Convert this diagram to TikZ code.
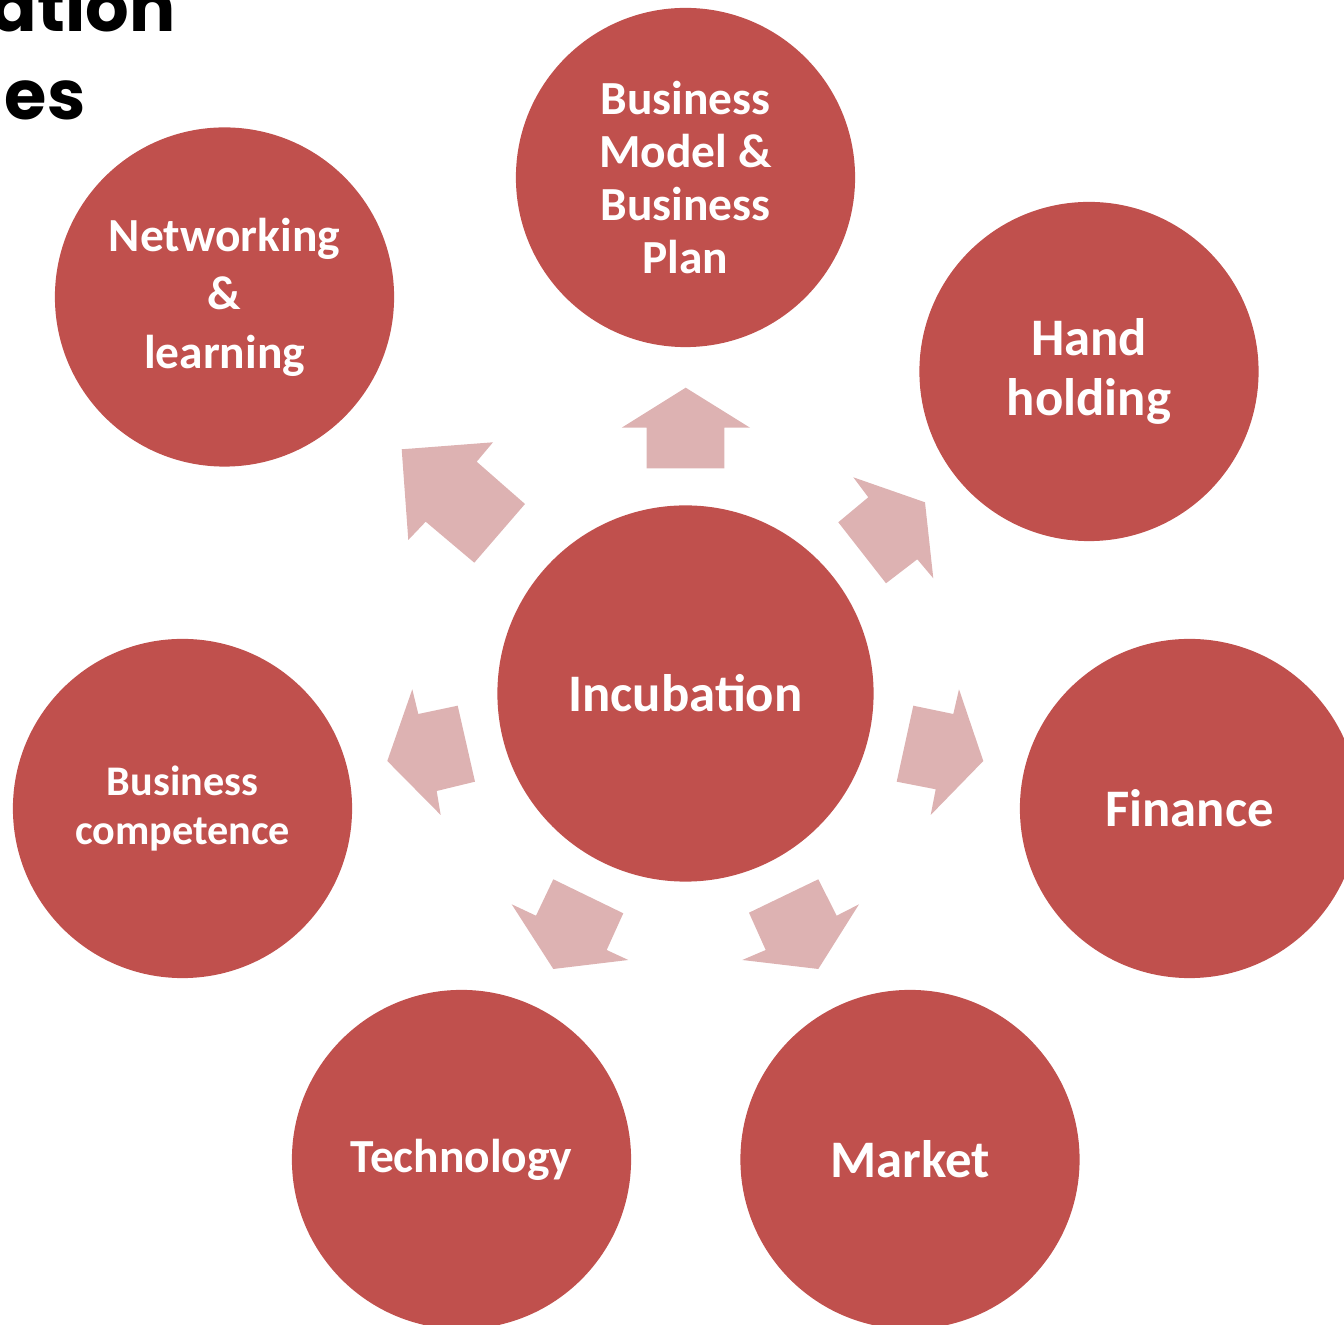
\documentclass[tikz,border=0pt]{standalone}
\usepackage{fontspec}
\setmainfont{Carlito}
\newfontfamily\headfont{Poppins}
\definecolor{bubblered}{RGB}{192,80,77}
\definecolor{arrowpink}{RGB}{221,178,178}

\begin{document}
\begin{tikzpicture}[x=0.01cm,y=-0.01cm,
	bubble/.style={circle,fill=bubblered,text=white,inner sep=0pt,minimum size=3.39cm,align=center},
	hub/.style={bubble,minimum size=3.76cm},
	pointer/.style={fill=arrowpink}]
	\useasboundingbox (0,0) rectangle (1344,1325);
	\clip (0,0) rectangle (1344,1325);
	
	% title, cut off by the slide edge
	\node[anchor=base east,inner sep=0pt,font=\headfont\bfseries\fontsize{19.5}{20}\selectfont] (titleA) at (176,32) {ation};
	\node[anchor=base east,inner sep=0pt,font=\headfont\bfseries\fontsize{19.5}{20}\selectfont] (titleB) at (86,120) {es};
	
	% block arrows out of the hub
	\fill[pointer] (401.7,449.3) -- (493,442.3) -- (476.7,461.7) -- (525,504) -- (474.3,562.7) -- (425.7,521.7) -- (408.3,540) -- cycle;
	\fill[pointer] (685.7,387.7) -- (750,427.7) -- (724.3,427.7) -- (724.3,468.3) -- (646.7,468.3) -- (646.7,427.7) -- (621.7,427.7) -- cycle;
	\fill[pointer] (925,502.3) -- (933.3,578.3) -- (917.3,559.3) -- (886,583.3) -- (838.3,522.3) -- (868.3,497.3) -- (853.3,477.3) -- cycle;
	\fill[pointer] (983.3,761) -- (930.7,815) -- (935.7,789.3) -- (896.7,781.7) -- (913.3,705.7) -- (953.3,714) -- (959,689.3) -- cycle;
	\fill[pointer] (818.3,969) -- (742.3,960) -- (765.7,950) -- (749,912.7) -- (818.3,879.3) -- (836.7,915.7) -- (859,904.3) -- cycle;
	\fill[pointer] (553.3,969) -- (511.7,904.3) -- (536,915.7) -- (553.3,879.3) -- (623.3,913.3) -- (606.7,950) -- (628.3,960) -- cycle;
	\fill[pointer] (387.3,761) -- (412.3,689.3) -- (418.3,714) -- (457.7,705.7) -- (475,781.7) -- (436.7,791) -- (440.7,815) -- cycle;
	
	% hub and satellites
	\node[hub,font=\bfseries\fontsize{15}{17}\selectfont] (incub) at (685.5,693.5) {Incubation};
	\node[bubble,font=\bfseries\fontsize{13.5}{15}\selectfont] (bizmodel) at (685.5,177.5) {Business\\Model \&\\Business\\Plan};
	\node[bubble,font=\bfseries\fontsize{15}{16.8}\selectfont] (handhold) at (1089,371.5) {Hand\\holding};
	\node[bubble,font=\bfseries\fontsize{15}{17}\selectfont] (finance) at (1189.5,808.5) {Finance};
	\node[bubble,font=\bfseries\fontsize{15}{17}\selectfont] (market) at (910,1159.5) {Market};
	\node[bubble,font=\bfseries\fontsize{13.5}{15}\selectfont] (techno) at (461.5,1159.5) {Technology};
	\node[bubble,font=\bfseries\fontsize{12}{13.7}\selectfont] (bizcomp) at (182.5,808.5) {Business\\competence};
	\node[bubble,font=\bfseries\fontsize{13.5}{16.6}\selectfont] (network) at (224.5,297) {Networking\\\&\\learning};
\end{tikzpicture}
\end{document}
